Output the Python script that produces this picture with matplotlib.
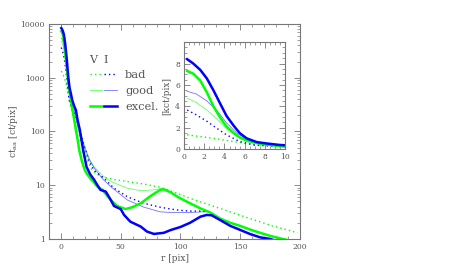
import numpy as np
import matplotlib
matplotlib.use("Agg")
from matplotlib import pyplot as plt
from matplotlib.ticker import MultipleLocator, FixedLocator, FixedFormatter, LogLocator, NullFormatter
from matplotlib.legend_handler import HandlerTuple

# radial profiles, r in pix, values in ct/pix
r_bad_V = [0.3, 2.9, 4.9, 7.2, 9.5, 12, 15, 18, 22, 26, 33, 44.4, 55.6, 69.4, 83, 97, 108, 133, 158, 175, 198]
bad_V = [1330, 1000, 700, 380, 220, 150, 90, 50, 30, 19, 14.5, 12.8, 11.7, 10.5, 9.2, 7.1, 5.7, 3.7, 2.4, 1.8, 1.3]

r_bad_I = [0.3, 1.2, 2.25, 3.3, 4.2, 5.5, 6.9, 8, 10, 12, 15.3, 18, 23, 27.5, 36, 44.4, 55.6, 69.4, 83, 92, 100, 108, 117, 124]
bad_I = [3650, 3200, 2600, 1900, 1330, 700, 380, 320, 250, 200, 107, 70, 30, 19, 13.5, 8.8, 6.1, 4.6, 3.9, 3.6, 3.4, 3.3, 3.3, 3.2]

r_good_V = [0.3, 1.2, 2.25, 3.3, 4.2, 5.2, 6.2, 7.5, 9, 10, 13, 16, 20, 24, 27.8, 35, 41.7, 55.6, 66.7, 77.8, 84.7, 87]
good_V = [4760, 4350, 3650, 2760, 1900, 1200, 700, 420, 300, 240, 150, 90, 45, 28, 22, 15, 11.7, 8.8, 7.9, 8.2, 8.8, 8.5]

r_good_I = [0.3, 1.2, 2.25, 3.3, 4.2, 5.2, 6.2, 7.5, 9, 10, 13, 16, 20, 24, 27.8, 35, 41.7, 55.6, 69.4, 83, 92, 100, 108, 119, 122]
good_I = [5400, 5150, 4500, 3550, 2450, 1500, 920, 560, 380, 310, 180, 100, 50, 30, 21, 13, 9.4, 5.3, 3.9, 3.2, 3.1, 3.1, 3.1, 3.2, 3.2]

r_exc_V = [0.3, 0.9, 1.6, 2.25, 2.9, 3.6, 4.2, 4.9, 5.5, 6.2, 7.5, 9.7, 11, 12.5, 14, 15.3, 17.5, 20, 22, 25, 27.8, 30.5,
           34.7, 41.7, 47, 54, 59.7, 66.7, 75, 83, 86, 91.7, 98, 108, 116.7, 125, 133, 141.7, 150, 158, 166.7, 175, 183, 190]
exc_V = [7300, 7050, 6400, 5300, 4000, 2900, 2100, 1500, 1100, 800, 500, 250, 170, 107, 70, 45, 28, 19, 16, 13, 11.2, 9.4,
         8.2, 5.3, 4.1, 3.6, 3.9, 4.6, 6.3, 8.2, 8.4, 7.4, 6.0, 4.6, 3.7, 3.1, 2.4, 2.0, 1.75, 1.5, 1.3, 1.14, 1.03, 0.95]

r_exc_I = [0.3, 0.9, 1.6, 2.25, 2.9, 3.6, 4.2, 4.9, 5.5, 6.2, 7.2, 8.2, 9.5, 11, 12.5, 14, 15.8, 18.6, 21.4, 24.4, 27.8,
           30.5, 33, 37.5, 41.7, 44.4, 50, 52.8, 58, 66.7, 72, 77.8, 86, 92, 100, 108, 116.7, 122, 126, 133, 141.7, 150,
           158, 166.7, 175, 180]
exc_I = [8400, 8000, 7400, 6600, 5500, 4200, 3100, 2200, 1500, 1000, 650, 520, 380, 300, 250, 160, 107, 45, 22, 16,
         12.6, 10, 8.2, 7.6, 5.3, 4.1, 3.6, 2.8, 2.1, 1.7, 1.37, 1.24, 1.3, 1.47, 1.67, 2.0, 2.6, 2.8, 2.76, 2.26, 1.75,
         1.47, 1.24, 1.07, 1.0, 0.92]

GREEN = "#00ff00"
BLUE = "#0000ff"
TXT = "#555555"
FONT = "DejaVu Serif"

plt.rcParams["font.family"] = FONT
plt.rcParams["axes.edgecolor"] = "#777777"
plt.rcParams["axes.linewidth"] = 0.8
plt.rcParams["xtick.color"] = "#777777"
plt.rcParams["ytick.color"] = "#777777"
plt.rcParams["xtick.labelcolor"] = TXT
plt.rcParams["ytick.labelcolor"] = TXT

series = [
    (r_bad_V, bad_V, GREEN, dict(lw=1.0, ls=(0, (1, 2.2)))),
    (r_bad_I, bad_I, BLUE, dict(lw=1.0, ls=(0, (1, 2.2)))),
    (r_good_V, good_V, GREEN, dict(lw=0.6, ls="-", alpha=0.6)),
    (r_good_I, good_I, BLUE, dict(lw=0.6, ls="-", alpha=0.55)),
    (r_exc_V, exc_V, GREEN, dict(lw=1.8, ls="-")),
    (r_exc_I, exc_I, BLUE, dict(lw=1.8, ls="-")),
]


def style_ticks(ax):
    ax.tick_params(which="both", direction="in", top=True, right=True, labelsize=5.5, pad=3)
    ax.tick_params(which="major", length=4, width=0.6)
    ax.tick_params(which="minor", length=2, width=0.5)


fig = plt.figure(figsize=(4.71, 2.70), dpi=100)
ax = fig.add_axes([0.104, 0.115, 0.533, 0.796])

lines = []
for r, v, c, kw in series:
    ln, = ax.plot(r, v, color=c, **kw)
    lines.append(ln)

ax.set_yscale("log")
ax.set_xlim(-10, 200)
ax.set_ylim(1, 10000)
ax.xaxis.set_major_locator(MultipleLocator(50))
ax.xaxis.set_minor_locator(MultipleLocator(10))
ax.yaxis.set_major_locator(FixedLocator([1, 10, 100, 1000, 10000]))
ax.yaxis.set_major_formatter(FixedFormatter(["1", "10", "100", "1000", "10000"]))
ax.yaxis.set_minor_locator(LogLocator(base=10, subs=np.arange(2, 10)))
ax.yaxis.set_minor_formatter(NullFormatter())
style_ticks(ax)
ax.set_xlabel("r [pix]", fontsize=6.5, color=TXT, labelpad=2)
ax.set_ylabel("ct$_{\\mathrm{aa}}$ [ct/pix]", fontsize=6.5, color=TXT, labelpad=0.5)

leg = ax.legend([(lines[0], lines[1]), (lines[2], lines[3]), (lines[4], lines[5])],
                ["bad", "good", "excel."],
                handler_map={tuple: HandlerTuple(ndivide=None, pad=0.15)},
                title="V  I", alignment="left", loc="upper left",
                bbox_to_anchor=(0.13, 0.895), frameon=False, fontsize=8.2,
                title_fontsize=8, handlelength=2.4, handletextpad=0.7,
                labelspacing=0.5, borderpad=0.2)
for t in leg.get_texts():
    t.set_color(TXT)
leg.get_title().set_color(TXT)

# inset: central part in kct/pix
axi = fig.add_axes([0.391, 0.448, 0.214, 0.396])
for r, v, c, kw in series:
    axi.plot(r, np.array(v) / 1000.0, color=c, **kw)
axi.set_xlim(0, 10)
axi.set_ylim(0, 10)
axi.xaxis.set_major_locator(MultipleLocator(2))
axi.xaxis.set_minor_locator(MultipleLocator(0.5))
axi.yaxis.set_major_locator(FixedLocator([0, 2, 4, 6, 8]))
axi.yaxis.set_minor_locator(MultipleLocator(0.5))
style_ticks(axi)
axi.set_ylabel("[kct/pix]", fontsize=6.5, color=TXT, labelpad=3)

fig.savefig("out.png", dpi=100)
